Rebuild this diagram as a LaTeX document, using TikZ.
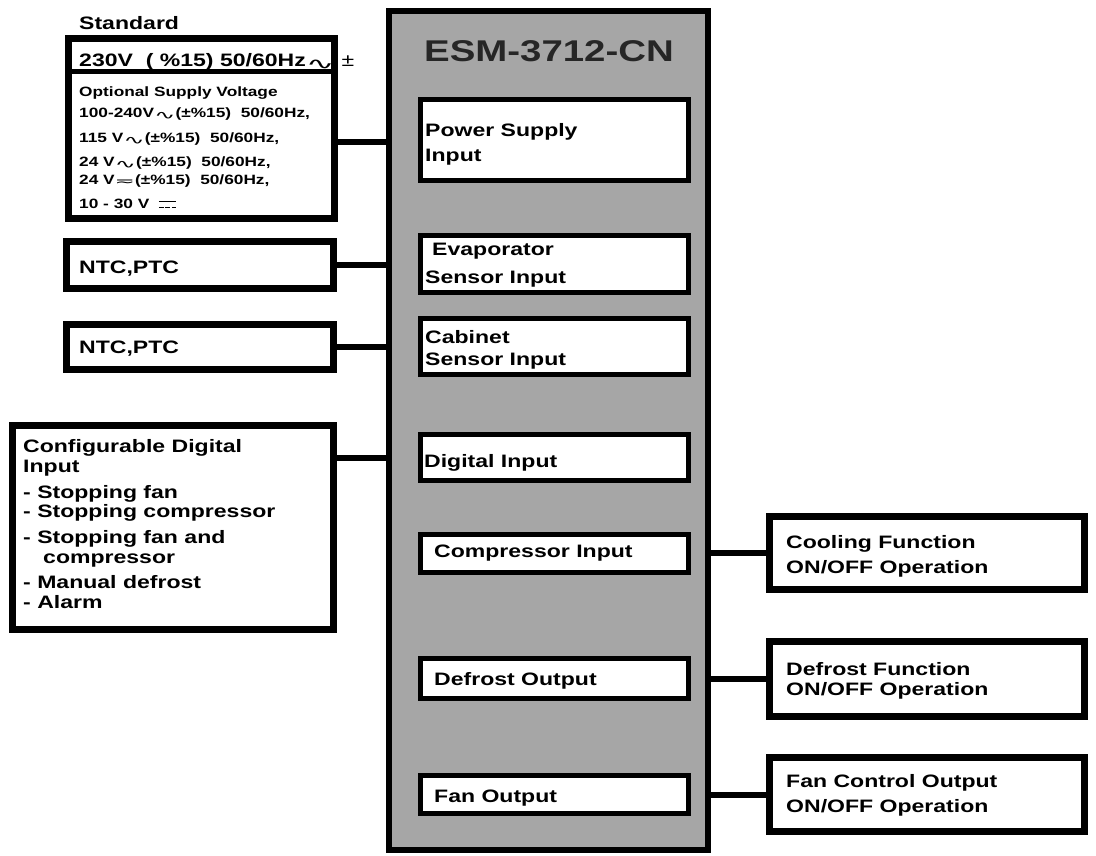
\documentclass[tikz,border=0pt]{standalone}
\usepackage{fontspec}
\setmainfont{Liberation Sans}[FakeStretch=1.28]
\newfontfamily\symfont{DejaVu Sans}
\definecolor{boxgray}{RGB}{166,166,166}
\newcommand{\acsym}[1][1.9]{\raisebox{-0.12em}{\scalebox{#1}[0.9]{\symfont\mdseries\char"223F}}}
\newcommand{\acdcsym}{\raisebox{-0.05em}{\scalebox{1.8}[0.9]{\symfont\mdseries\char"2242}}}
\newcommand{\dcsym}{\raisebox{0.45em}{\rlap{\rule{1.3em}{0.08em}}}\rule{0.35em}{0.08em}\hspace{0.125em}\rule{0.35em}{0.08em}\hspace{0.125em}\rule{0.35em}{0.08em}}
\begin{document}
\begin{tikzpicture}[x=1pt,y=-1pt,
  bx/.style={draw=black, fill=white, inner sep=0pt, anchor=north west},
  lbl/.style={anchor=base west, inner sep=0pt, font=\fontsize{18}{20}\selectfont\bfseries},
  sml/.style={anchor=base west, inner sep=0pt, font=\fontsize{13.5}{15}\selectfont\bfseries},
  conn/.style={line width=6pt}]
\useasboundingbox (0,0) rectangle (1096,856);
% main box
\node[bx, fill=boxgray, line width=6pt, minimum width=319pt, minimum height=839pt] (main) at (386,8) {};
\node[anchor=base, inner sep=0pt, font=\fontsize{30}{32}\selectfont\bfseries, text=black!85] (title) at (549,62) {ESM-3712-CN};
% inner boxes
\node[bx, line width=5pt, minimum width=268pt, minimum height=81pt] (psu) at (418,97) {};
\node[bx, line width=5pt, minimum width=268pt, minimum height=57pt] (evap) at (418,233) {};
\node[bx, line width=5pt, minimum width=268pt, minimum height=56pt] (cab) at (418,316) {};
\node[bx, line width=5pt, minimum width=268pt, minimum height=46pt] (dig) at (418,432) {};
\node[bx, line width=5pt, minimum width=268pt, minimum height=38pt] (comp) at (418,532) {};
\node[bx, line width=5pt, minimum width=268pt, minimum height=40pt] (defo) at (418,656) {};
\node[bx, line width=5pt, minimum width=268pt, minimum height=38pt] (fano) at (418,773) {};
\node[lbl] (t-psu1) at (425,137) {Power Supply};
\node[lbl] (t-psu2) at (425,162) {Input};
\node[lbl] (t-evap1) at (432,255) {Evaporator};
\node[lbl] (t-evap2) at (425,283) {Sensor Input};
\node[lbl] (t-cab1) at (425,343) {Cabinet};
\node[lbl] (t-cab2) at (425,365) {Sensor Input};
\node[lbl] (t-dig) at (424,467) {Digital Input};
\node[lbl] (t-comp) at (434,557) {Compressor Input};
\node[lbl] (t-defo) at (434,685) {Defrost Output};
\node[lbl] (t-fano) at (434,802) {Fan Output};
% right boxes
\node[bx, line width=7pt, minimum width=315pt, minimum height=73pt] (cool) at (766,513) {};
\node[bx, line width=7pt, minimum width=315pt, minimum height=75pt] (deff) at (766,638) {};
\node[bx, line width=7pt, minimum width=315pt, minimum height=74pt] (fanc) at (766,754) {};
\node[lbl] (t-cool1) at (786,548) {Cooling Function};
\node[lbl] (t-cool2) at (786,573) {ON/OFF Operation};
\node[lbl] (t-deff1) at (786,675) {Defrost Function};
\node[lbl] (t-deff2) at (786,695) {ON/OFF Operation};
\node[lbl] (t-fanc1) at (786,787) {Fan Control Output};
\node[lbl] (t-fanc2) at (786,812) {ON/OFF Operation};
% left boxes
\node[bx, line width=7pt, minimum width=266pt, minimum height=180pt] (supply) at (65,35) {};
\draw[line width=5pt] (supply.west |- 0,72) -- (supply.east |- 0,72);
\node[bx, line width=7pt, minimum width=267pt, minimum height=47pt] (ntc1) at (63,238) {};
\node[bx, line width=7pt, minimum width=267pt, minimum height=45pt] (ntc2) at (63,321) {};
\node[bx, line width=7pt, minimum width=321pt, minimum height=204pt] (cfg) at (9,422) {};
\node[lbl] (t-std) at (79,30) {Standard};
\node[lbl] (t-230) at (79,67) {230V\ \ ( \%15) 50/60Hz\acsym[1.9]\hspace{7pt}{\mdseries ±}};
\node[sml] (t-opt0) at (79,97) {Optional Supply Voltage};
\node[sml] (t-opt1) at (79,118) {100-240V\acsym(±\%15)\ \ 50/60Hz,};
\node[sml] (t-opt2) at (79,143) {115 V\acsym(±\%15)\ \ 50/60Hz,};
\node[sml] (t-opt3) at (79,167) {24 V\acsym(±\%15)\ \ 50/60Hz,};
\node[sml] (t-opt4) at (79,185) {24 V\acdcsym(±\%15)\ \ 50/60Hz,};
\node[sml] (t-opt5) at (79,208) {10 - 30 V\ \ \dcsym};
\node[lbl] (t-ntc1) at (79,273) {NTC,PTC};
\node[lbl] (t-ntc2) at (79,353) {NTC,PTC};
\node[lbl] (t-cfg1) at (23,452) {Configurable Digital};
\node[lbl] (t-cfg2) at (23,472) {Input};
\node[lbl] (t-cfg3) at (23,498) {- Stopping fan};
\node[lbl] (t-cfg4) at (23,517) {- Stopping compressor};
\node[lbl] (t-cfg5) at (23,543) {- Stopping fan and};
\node[lbl] (t-cfg6) at (43,563) {compressor};
\node[lbl] (t-cfg7) at (23,588) {- Manual defrost};
\node[lbl] (t-cfg8) at (23,608) {- Alarm};
% connectors
\draw[conn] (supply.east |- 0,142) -- (main.west |- 0,142);
\draw[conn] (ntc1.east) -- (main.west |- ntc1.east);
\draw[conn] (ntc2.east) -- (main.west |- ntc2.east);
\draw[conn] (cfg.east |- 0,458) -- (main.west |- 0,458);
\draw[conn] (main.east |- cool.west) -- (cool.west);
\draw[conn] (main.east |- deff.west) -- (deff.west);
\draw[conn] (main.east |- fanc.west) -- (fanc.west);
\end{tikzpicture}
\end{document}
